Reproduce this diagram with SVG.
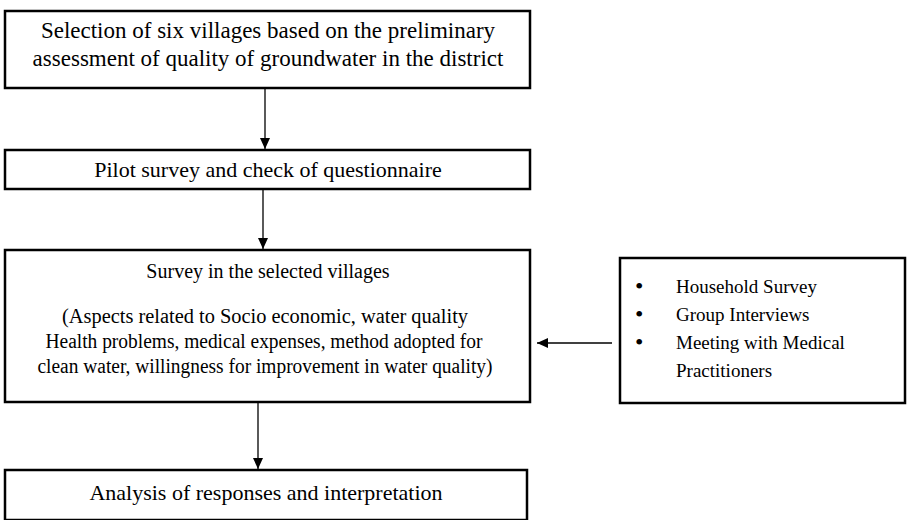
<svg xmlns="http://www.w3.org/2000/svg" width="912" height="520" viewBox="0 0 912 520">
<defs>
<marker id="ah" markerWidth="12" markerHeight="12" refX="11" refY="6" orient="auto" markerUnits="userSpaceOnUse">
<path d="M0,1 L11,6 L0,11 Z" fill="#000"/>
</marker>
<style>
.box{fill:#fff;stroke:#000;stroke-width:2.5}
.t{font-family:"Liberation Serif","Times New Roman",serif;fill:#000}
.c{text-anchor:middle}
.big{font-size:23px}
.mid{font-size:22px}
.sm{font-size:20px}
.side{font-size:19px}
.bul{font-size:24px}
.ln{stroke:#000;stroke-width:1.3;fill:none}
</style>
</defs>
<rect width="912" height="520" fill="#fff"/>
<g id="n1">
<rect class="box" x="5" y="11" width="525" height="77"/>
<text class="t c big" x="268" y="38">Selection of six villages based on the preliminary</text>
<text class="t c big" x="268" y="66">assessment of quality of groundwater in the district</text>
</g>
<g id="n2">
<rect class="box" x="5" y="150" width="525" height="39"/>
<text class="t c mid" x="268" y="177">Pilot survey and check of questionnaire</text>
</g>
<g id="n3">
<rect class="box" x="5" y="250" width="525" height="152"/>
<text class="t c sm" x="268" y="278">Survey in the selected villages</text>
<text class="t c sm" x="265" y="323" textLength="406" lengthAdjust="spacingAndGlyphs">(Aspects related to Socio economic, water quality</text>
<text class="t c sm" x="264" y="348" textLength="437" lengthAdjust="spacingAndGlyphs">Health problems, medical expenses, method adopted for</text>
<text class="t c sm" x="265" y="373" textLength="455" lengthAdjust="spacingAndGlyphs">clean water, willingness for improvement in water quality)</text>
</g>
<g id="n4">
<rect class="box" x="620" y="258" width="285" height="145"/>
<text class="t bul" x="635" y="294">•</text>
<text class="t side" x="676" y="293">Household Survey</text>
<text class="t bul" x="635" y="322">•</text>
<text class="t side" x="676" y="321">Group Interviews</text>
<text class="t bul" x="635" y="350">•</text>
<text class="t side" x="676" y="349">Meeting with Medical</text>
<text class="t side" x="676" y="377">Practitioners</text>
</g>
<g id="n5">
<rect class="box" x="5" y="470" width="522" height="50"/>
<text class="t c mid" x="266" y="500">Analysis of responses and interpretation</text>
</g>
<g id="connectors">
<line class="ln" x1="265" y1="89" x2="265" y2="149" marker-end="url(#ah)"/>
<line class="ln" x1="263" y1="190" x2="263" y2="249" marker-end="url(#ah)"/>
<line class="ln" x1="612" y1="343" x2="537" y2="343" marker-end="url(#ah)"/>
<line class="ln" x1="258" y1="403" x2="258" y2="469" marker-end="url(#ah)"/>
</g>
</svg>
